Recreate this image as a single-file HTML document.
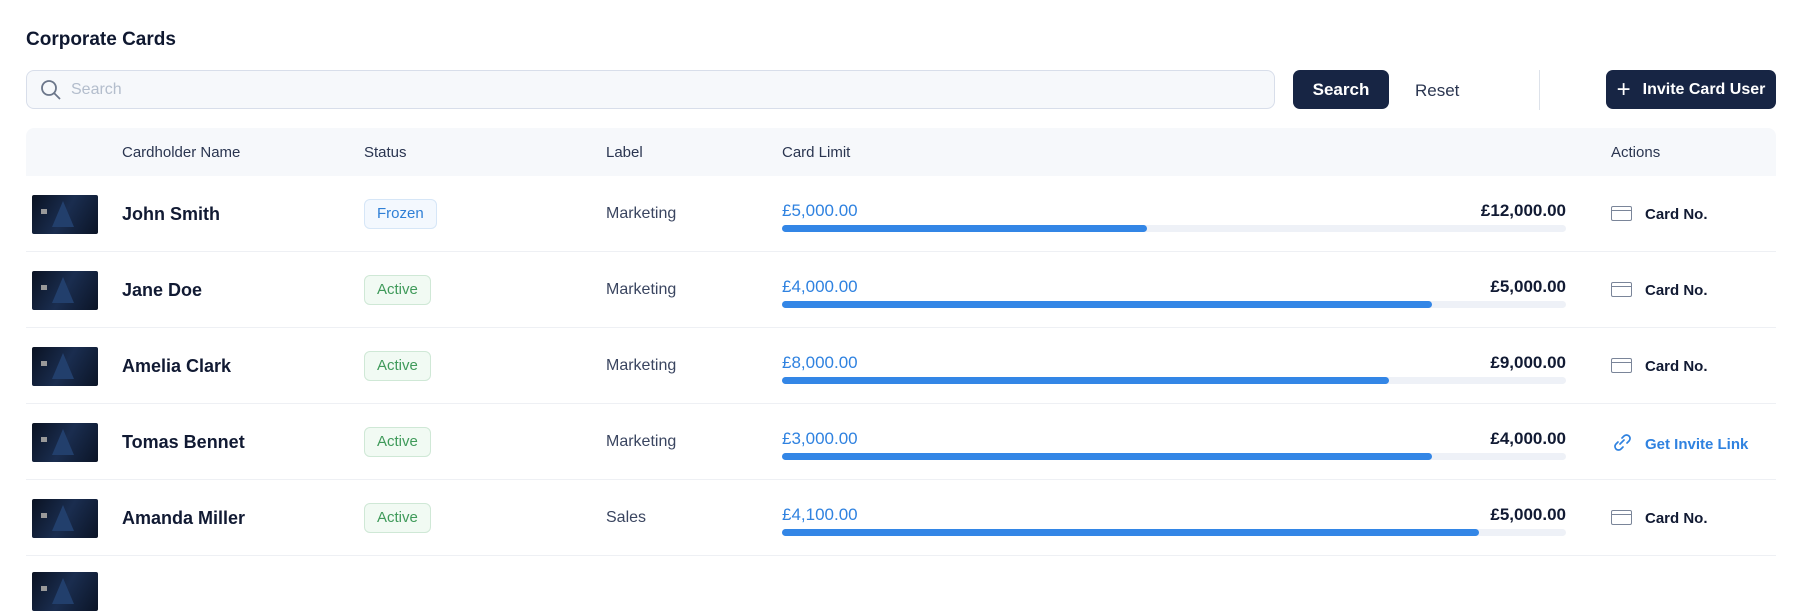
<!DOCTYPE html>
<html><head><meta charset="utf-8"><style>
*{box-sizing:border-box;margin:0;padding:0}
body{width:1804px;height:578px;overflow:hidden;background:#fff;font-family:"Liberation Sans",sans-serif;color:#111a33;position:relative}
.a{position:absolute;white-space:nowrap}
.title{left:26px;top:29px;font-size:19px;font-weight:bold;color:#0f1830}
.search{left:26px;top:70px;width:1249px;height:39px;border:1.5px solid #d8deea;border-radius:8px;background:#f6f8fb}
.btn{background:#172544;color:#fff;border-radius:7px;font-weight:bold;font-size:17px;display:flex;align-items:center;justify-content:center}
.hdr{left:26px;top:128px;width:1750px;height:48px;background:#f6f8fb;border-radius:8px 8px 0 0}
.hc{font-size:15px;color:#2a3550;top:144px}
.row{left:26px;width:1750px;height:76px;border-bottom:1px solid #eef0f4}
.card{left:32px;width:66px;height:39px;border-radius:2px;background:linear-gradient(120deg,#0a1222 0%,#1a2d4f 50%,#0b1426 100%);overflow:hidden}
.card:before{content:"";position:absolute;left:20px;top:6px;border-left:11px solid transparent;border-right:11px solid transparent;border-bottom:26px solid #223f6c}
.card:after{content:"";position:absolute;left:9px;top:14px;width:6px;height:5px;background:#999}
.name{left:122px;font-size:18px;font-weight:bold;color:#111a33}
.badge{left:364px;height:30px;border-radius:6px;font-size:15px;padding:0 12px;line-height:28px}
.fr{border:1px solid #d6e6f7;background:#f3f8fe;color:#2f7fd6}
.ac{border:1px solid #cfe8d6;background:#f1faf3;color:#3f9a5a}
.lbl{left:606px;font-size:16px;color:#3a4560}
.amt{left:782px;font-size:17px;color:#2f82e0}
.max{right:238px;font-size:17px;font-weight:bold;color:#111a33}
.bar{left:782px;width:784px;height:7px;border-radius:4px;background:#eef1f7}
.fill{position:absolute;left:0;top:0;height:7px;border-radius:4px;background:#3386e6}
.act{left:1611px;font-size:15px;font-weight:bold;color:#111a33}
.ci{display:inline-block;width:21px;height:15px;border:1.5px solid #7a8599;border-radius:2px;vertical-align:-2px;margin-right:13px;position:relative}
.ci:after{content:"";position:absolute;left:0;right:0;top:3px;border-top:1.5px solid #7a8599}
</style></head><body>
<div class="a title">Corporate Cards</div>
<div class="a search"></div>
<svg class="a" style="left:40px;top:79px" width="22" height="22" viewBox="0 0 22 22"><circle cx="9" cy="9" r="7" fill="none" stroke="#6b768a" stroke-width="1.8"/><line x1="14" y1="14" x2="20" y2="20" stroke="#6b768a" stroke-width="1.8"/></svg>
<div class="a" style="left:71px;top:81px;font-size:16px;color:#b3bdcc">Search</div>
<div class="a btn" style="left:1293px;top:70px;width:96px;height:39px">Search</div>
<div class="a" style="left:1415px;top:81px;font-size:17px;color:#2a3550">Reset</div>
<div class="a" style="left:1539px;top:70px;width:1px;height:40px;background:#dde2ea"></div>
<div class="a btn" style="left:1606px;top:70px;width:170px;height:39px;font-size:16px"><span style="font-weight:normal;font-size:24px;margin-right:12px;line-height:20px">+</span>Invite Card User</div>
<div class="a hdr"></div>
<div class="a hc" style="left:122px">Cardholder Name</div>
<div class="a hc" style="left:364px">Status</div>
<div class="a hc" style="left:606px">Label</div>
<div class="a hc" style="left:782px">Card Limit</div>
<div class="a hc" style="left:1611px">Actions</div>

<div class="a row" style="top:176px"></div>
<div class="a card" style="top:195px"></div>
<div class="a name" style="top:204px">John Smith</div>
<div class="a badge fr" style="top:199px">Frozen</div>
<div class="a lbl" style="top:205px">Marketing</div>
<div class="a amt" style="top:201px">£5,000.00</div>
<div class="a max" style="top:201px">£12,000.00</div>
<div class="a bar" style="top:225px"><div class="fill" style="width:365px"></div></div>
<div class="a act" style="top:206px"><span class="ci"></span>Card No.</div>

<div class="a row" style="top:252px"></div>
<div class="a card" style="top:271px"></div>
<div class="a name" style="top:280px">Jane Doe</div>
<div class="a badge ac" style="top:275px">Active</div>
<div class="a lbl" style="top:281px">Marketing</div>
<div class="a amt" style="top:277px">£4,000.00</div>
<div class="a max" style="top:277px">£5,000.00</div>
<div class="a bar" style="top:301px"><div class="fill" style="width:650px"></div></div>
<div class="a act" style="top:282px"><span class="ci"></span>Card No.</div>

<div class="a row" style="top:328px"></div>
<div class="a card" style="top:347px"></div>
<div class="a name" style="top:356px">Amelia Clark</div>
<div class="a badge ac" style="top:351px">Active</div>
<div class="a lbl" style="top:357px">Marketing</div>
<div class="a amt" style="top:353px">£8,000.00</div>
<div class="a max" style="top:353px">£9,000.00</div>
<div class="a bar" style="top:377px"><div class="fill" style="width:607px"></div></div>
<div class="a act" style="top:358px"><span class="ci"></span>Card No.</div>

<div class="a row" style="top:404px"></div>
<div class="a card" style="top:423px"></div>
<div class="a name" style="top:432px">Tomas Bennet</div>
<div class="a badge ac" style="top:427px">Active</div>
<div class="a lbl" style="top:433px">Marketing</div>
<div class="a amt" style="top:429px">£3,000.00</div>
<div class="a max" style="top:429px">£4,000.00</div>
<div class="a bar" style="top:453px"><div class="fill" style="width:650px"></div></div>
<div class="a act" style="top:433px;color:#2f82e0"><svg width="22" height="20" viewBox="0 0 22 20" style="vertical-align:-4px;margin-right:12px"><g fill="none" stroke="#2f82e0" stroke-width="1.7" stroke-linecap="round"><path d="M9 11 L13 7"/><path d="M11 5 L13 3 a3.5 3.5 0 0 1 5 5 L16 10"/><path d="M7 9 L5 11 a3.5 3.5 0 0 0 5 5 L12 14"/></g></svg>Get Invite Link</div>

<div class="a row" style="top:480px"></div>
<div class="a card" style="top:499px"></div>
<div class="a name" style="top:508px">Amanda Miller</div>
<div class="a badge ac" style="top:503px">Active</div>
<div class="a lbl" style="top:509px">Sales</div>
<div class="a amt" style="top:505px">£4,100.00</div>
<div class="a max" style="top:505px">£5,000.00</div>
<div class="a bar" style="top:529px"><div class="fill" style="width:697px"></div></div>
<div class="a act" style="top:510px"><span class="ci"></span>Card No.</div>

<div class="a card" style="top:572px"></div>
</body></html>
